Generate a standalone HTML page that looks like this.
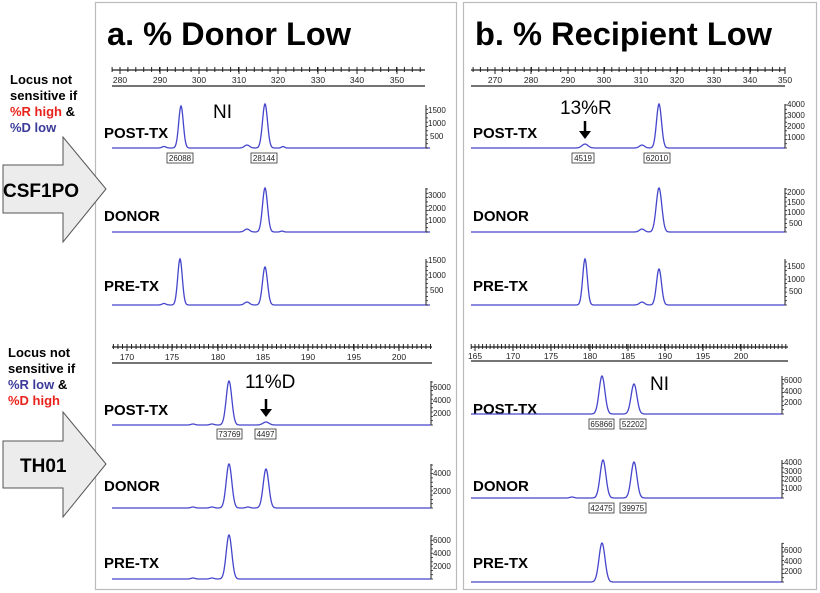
<!DOCTYPE html>
<html><head><meta charset="utf-8"><style>
html,body{margin:0;padding:0;background:#fff;}
svg{display:block;font-family:"Liberation Sans",Arial,sans-serif;}
.lab{font-weight:bold;font-size:15px;fill:#000;}
.tk{font-size:8.5px;fill:#222;}
.ax{font-size:8px;fill:#222;}
.box{fill:#fff;stroke:#333;stroke-width:0.8;}
.bt{font-size:8px;fill:#222;}
.side{font-weight:bold;font-size:13px;}
</style></head><body>
<svg id="s" width="820" height="593" viewBox="0 0 820 593">
<rect x="95.5" y="2.5" width="361" height="587" fill="none" stroke="#bbb" stroke-width="1.2"/>
<rect x="463.5" y="2.5" width="353" height="587" fill="none" stroke="#bbb" stroke-width="1.2"/>
<text x="107" y="45" font-size="32" font-weight="bold" textLength="244" lengthAdjust="spacingAndGlyphs">a. % Donor Low</text>
<text x="475" y="45" font-size="32" font-weight="bold" textLength="297" lengthAdjust="spacingAndGlyphs">b. % Recipient Low</text>

<text class="side" x="10" y="84">Locus not</text>
<text class="side" x="10" y="100">sensitive if</text>
<text class="side" x="10" y="116"><tspan fill="#e8231b">%R high</tspan> &amp;</text>
<text class="side" x="10" y="132" fill="#3a3a9a">%D low</text>
<polygon points="3,165 63,165 63,137 106,189 63,242 63,213 3,213" fill="#ececec" stroke="#555" stroke-width="1"/>
<text x="3" y="197" font-size="19" font-weight="bold">CSF1PO</text>

<text class="side" x="8" y="357">Locus not</text>
<text class="side" x="8" y="373">sensitive if</text>
<text class="side" x="8" y="389"><tspan fill="#3a3a9a">%R low</tspan> &amp;</text>
<text class="side" x="8" y="405" fill="#e8231b">%D high</text>
<polygon points="3,441 63,441 63,412 106,464 63,517 63,488 3,488" fill="#ececec" stroke="#555" stroke-width="1"/>
<text x="20" y="472" font-size="19" font-weight="bold">TH01</text>

<text class="lab" x="104" y="138">POST-TX</text>
<text class="lab" x="104" y="221">DONOR</text>
<text class="lab" x="104" y="291">PRE-TX</text>
<text class="lab" x="104" y="415">POST-TX</text>
<text class="lab" x="104" y="491">DONOR</text>
<text class="lab" x="104" y="568">PRE-TX</text>
<text class="lab" x="473" y="138">POST-TX</text>
<text class="lab" x="473" y="221">DONOR</text>
<text class="lab" x="473" y="291">PRE-TX</text>
<text class="lab" x="473" y="414">POST-TX</text>
<text class="lab" x="473" y="491">DONOR</text>
<text class="lab" x="473" y="568">PRE-TX</text>

<g class="tk" text-anchor="middle">
<text x="120" y="83">280</text><text x="160" y="83">290</text><text x="199" y="83">300</text><text x="239" y="83">310</text><text x="278" y="83">320</text><text x="318" y="83">330</text><text x="357" y="83">340</text><text x="397" y="83">350</text>
<text x="495" y="83">270</text><text x="531" y="83">280</text><text x="568" y="83">290</text><text x="604" y="83">300</text><text x="641" y="83">310</text><text x="677" y="83">320</text><text x="714" y="83">330</text><text x="750" y="83">340</text><text x="785" y="83">350</text>
<text x="127" y="360">170</text><text x="172" y="360">175</text><text x="218" y="360">180</text><text x="263" y="360">185</text><text x="308" y="360">190</text><text x="354" y="360">195</text><text x="399" y="360">200</text>
<text x="475" y="359">165</text><text x="513" y="359">170</text><text x="551" y="359">175</text><text x="590" y="359">180</text><text x="628" y="359">185</text><text x="665" y="359">190</text><text x="703" y="359">195</text><text x="741" y="359">200</text>
</g>

<g class="ax">
<text x="428" y="113">1500</text><text x="428" y="126">1000</text><text x="430" y="139">500</text>
<text x="428" y="198">3000</text><text x="428" y="211">2000</text><text x="428" y="223">1000</text>
<text x="428" y="263">1500</text><text x="428" y="278">1000</text><text x="430" y="293">500</text>
<text x="433" y="390">6000</text><text x="433" y="403">4000</text><text x="433" y="416">2000</text>
<text x="433" y="476">4000</text><text x="433" y="494">2000</text>
<text x="433" y="543">6000</text><text x="433" y="556">4000</text><text x="433" y="569">2000</text>
<text x="787" y="107">4000</text><text x="787" y="118">3000</text><text x="787" y="129">2000</text><text x="787" y="140">1000</text>
<text x="787" y="195">2000</text><text x="787" y="205">1500</text><text x="787" y="215">1000</text><text x="789" y="226">500</text>
<text x="787" y="269">1500</text><text x="787" y="282">1000</text><text x="789" y="294">500</text>
<text x="784" y="383">6000</text><text x="784" y="394">4000</text><text x="784" y="405">2000</text>
<text x="784" y="465">4000</text><text x="784" y="474">3000</text><text x="784" y="482">2000</text><text x="784" y="491">1000</text>
<text x="784" y="553">6000</text><text x="784" y="564">4000</text><text x="784" y="574">2000</text>
</g>

<rect class="box" x="167" y="153" width="26" height="10"/><text class="bt" x="180" y="161" text-anchor="middle">26088</text>
<rect class="box" x="251" y="153" width="26" height="10"/><text class="bt" x="264" y="161" text-anchor="middle">28144</text>
<rect class="box" x="217" y="429" width="25" height="10"/><text class="bt" x="229.5" y="437" text-anchor="middle">73769</text>
<rect class="box" x="255" y="429" width="21" height="10"/><text class="bt" x="265.5" y="437" text-anchor="middle">4497</text>
<rect class="box" x="572" y="153" width="22" height="10"/><text class="bt" x="583" y="161" text-anchor="middle">4519</text>
<rect class="box" x="644" y="153" width="26" height="10"/><text class="bt" x="657" y="161" text-anchor="middle">62010</text>
<rect class="box" x="589" y="419" width="25" height="10"/><text class="bt" x="601.5" y="427" text-anchor="middle">65866</text>
<rect class="box" x="620" y="419" width="26" height="10"/><text class="bt" x="633" y="427" text-anchor="middle">52202</text>
<rect class="box" x="589" y="503" width="25" height="10"/><text class="bt" x="601.5" y="511" text-anchor="middle">42475</text>
<rect class="box" x="620" y="503" width="26" height="10"/><text class="bt" x="633" y="511" text-anchor="middle">39975</text>

<text x="213" y="118" font-size="19">NI</text>
<text x="650" y="390" font-size="19">NI</text>
<text x="245" y="388" font-size="19">11%D</text>
<text x="560" y="114" font-size="19">13%R</text>
<g fill="#000" stroke="#000">
<line x1="266" y1="399" x2="266" y2="410" stroke-width="2.5"/><polygon points="260,409 272,409 266,417" stroke="none"/>
<line x1="585" y1="121" x2="585" y2="132" stroke-width="2.5"/><polygon points="579,131 591,131 585,139" stroke="none"/>
</g>
<g id="dyn"></g>
</svg>
<script>
var NS="http://www.w3.org/2000/svg",g=document.getElementById("dyn");
function el(t,a){var e=document.createElementNS(NS,t);for(var k in a)e.setAttribute(k,a[k]);g.appendChild(e);return e;}
function ruler(l0,l1,x0,yt,yb,step,major){
 el("line",{x1:l0,y1:yt,x2:l1,y2:yt,stroke:"#222","stroke-width":1.3});
 el("line",{x1:l0,y1:yb,x2:l1,y2:yb,stroke:"#222","stroke-width":1.3});
 while(x0-step>=l0)x0-=step;
 for(var x=x0;x<=l1;x+=step){el("line",{x1:x,y1:yt-3,x2:x,y2:yt+2,stroke:"#222","stroke-width":1});}
 major.forEach(function(x){el("line",{x1:x,y1:yt-3,x2:x,y2:yt+4,stroke:"#222","stroke-width":1});});
}
function trace(x0,x1,base,peaks,ax,ytop){
 var d="";for(var x=x0;x<=x1;x+=0.5){var y=base;peaks.forEach(function(p){y-=p[1]*Math.exp(-Math.pow((x-p[0])/p[2],2)/2);});d+=(x==x0?"M":"L")+x.toFixed(1)+" "+y.toFixed(1);}
 el("path",{d:d,fill:"none",stroke:"#4545cc","stroke-width":1.3});
 el("line",{x1:ax,y1:ytop,x2:ax,y2:base,stroke:"#222","stroke-width":1});
 for(var y=base;y>=ytop;y-=4.3)el("line",{x1:ax,y1:y,x2:ax+2,y2:y,stroke:"#222","stroke-width":0.8});
}
ruler(112,425,120,70,86,7.9,[120,160,199,239,278,318,357,397]);
ruler(471,785,495,70,86,7.3,[495,531,568,604,641,677,714,750,785]);
ruler(112,432,127,347,363,4.53,[127,172,218,263,308,354,399]);
ruler(471,788,475,347,361,3.79,[475,513,551,590,628,665,703,741]);
trace(112,430,148,[[181,42,2.3],[265,44,2.5],[247,3,2.5],[164,1.5,2],[283,1.5,1.5]],426,105);
trace(112,430,232,[[265,44,2.5],[247,3,2.5],[282,1,1.5]],426,188);
trace(112,430,305,[[180,46,2.3],[265,38,2.5],[247,3,2.5],[164,1.5,2]],426,259);
trace(112,431,425,[[229,44,2.8],[266,3,3],[193,1,2],[212,1,2]],431,381);
trace(112,431,508,[[229,44,2.8],[266,39,2.8],[248,1,2],[193,1,2],[212,1,2]],431,464);
trace(112,431,579,[[229,44,2.8],[193,1,2],[212,1,2]],431,535);
trace(471,785,148,[[585,4,3],[659,44,2.5],[642,3,2.5]],785,104);
trace(471,785,232,[[659,44,2.8],[642,3,2.5]],785,188);
trace(471,785,305,[[585,46,2.3],[659,36,2.5],[642,3,2.5]],785,259);
trace(471,782,414,[[602,38,2.9],[634,30,2.9]],782,376);
trace(471,782,498,[[603,38,2.9],[634,36,2.9],[572,1,2]],782,460);
trace(471,782,582,[[602,39,3]],782,543);
</script>
</body></html>
